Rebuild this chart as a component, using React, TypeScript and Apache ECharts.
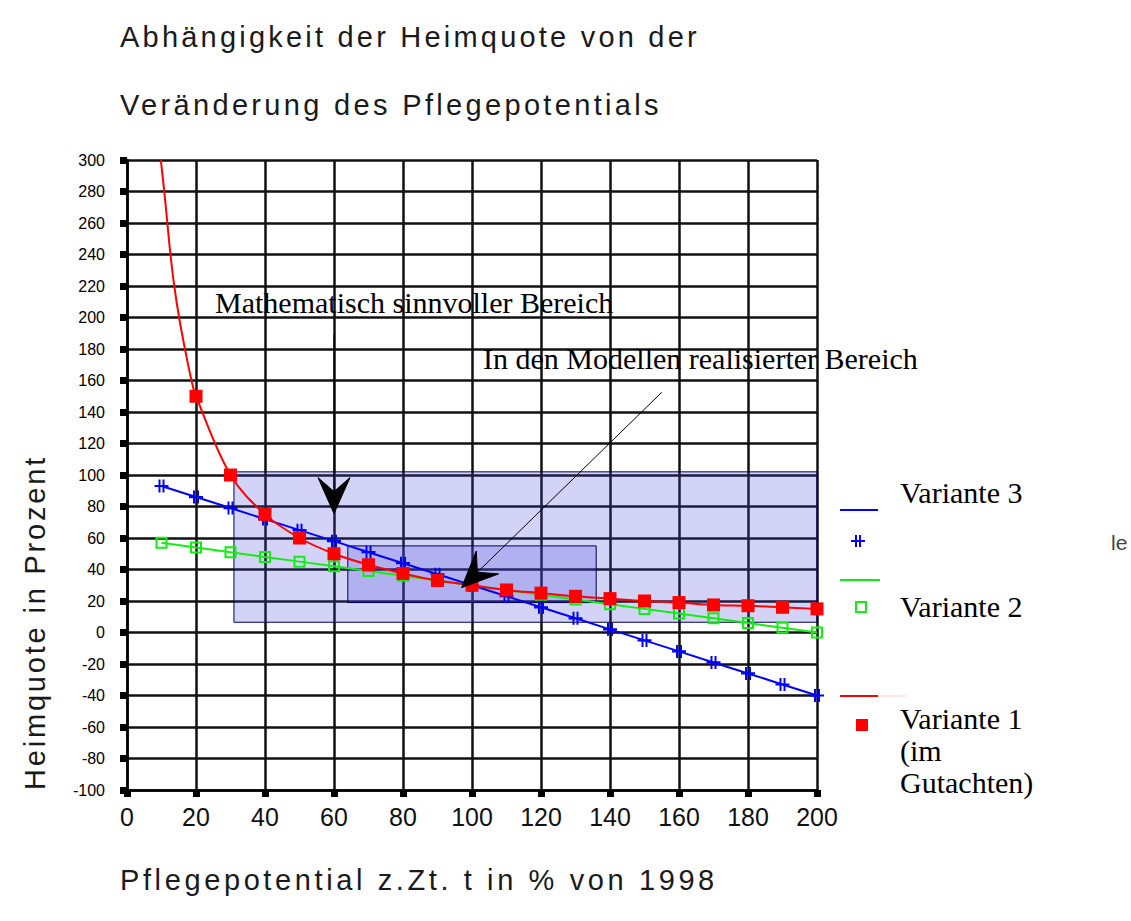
import React, { useEffect, useRef } from "react";
import * as echarts from "echarts";

// ---------- texts ----------
const TITLE_LINES = ["Abhängigkeit der Heimquote von der", "Veränderung des Pflegepotentials"];
const X_NAME = "Pflegepotential z.Zt. t in % von 1998";
const Y_NAME = "Heimquote in Prozent";
const NOTE_MATH = "Mathematisch sinnvoller Bereich";
const NOTE_MODEL = "In den Modellen realisierter Bereich";
const LEGEND_V3 = "Variante 3";
const LEGEND_V2 = "Variante 2";
const LEGEND_V1 = ["Variante 1", "(im", "Gutachten)"];

// ---------- axes ----------
const X_MIN = 0;
const X_MAX = 200;
const X_STEP = 20;
const Y_MIN = -100;
const Y_MAX = 300;
const Y_STEP = 20;

// ---------- data ----------
const xV3 = [10, 20, 30, 40, 50, 60, 70, 80, 90, 100, 110, 120, 130, 140, 150, 160, 170, 180, 190, 200];
const variante3 = [93, 86, 79, 72, 65, 58, 51, 44, 37, 30, 23, 16, 9, 2, -5, -12, -19, -26, -33, -40];

const xV2 = [10, 20, 30, 40, 50, 60, 70, 80, 90, 100, 110, 120, 130, 140, 150, 160, 170, 180, 190, 200];
const variante2 = [57, 54, 51, 48, 45, 42, 39, 36, 33, 30, 27, 24, 21, 18, 15, 12, 9, 6, 3, 0];

const xV1 = [20, 30, 40, 50, 60, 70, 80, 90, 100, 110, 120, 130, 140, 150, 160, 170, 180, 190, 200];
const variante1 = [150, 100, 75, 60, 50, 43, 37.5, 33, 30, 27, 25, 23, 21.5, 20, 19, 17.5, 17, 16, 15];
// red curve continuing above the first marker (line only, no markers)
const xV1Lead = [9.8, 10.8, 11.7, 12.6, 13.7, 15.1, 16.8, 18.7];
const variante1Lead = [300, 280, 260, 240, 220, 200, 180, 160];

// shaded ranges (data coordinates)
const outerRangeX = [31, 200];
const outerRangeY = [6.5, 102];
const innerRangeX = [64, 136];
const innerRangeY = [19, 55];

// annotation arrows (data coordinates: tail -> tip)
const arrowMath = [[60, 189], [60, 75.5]];
const arrowModel = [[155, 152.5], [97, 28.5]];

const BLUE = "#0000ff";
const GREEN = "#11ee11";
const RED = "#ff0000";
const SANS = '"Liberation Sans", Arial, Helvetica, sans-serif';
const SERIF = '"Liberation Serif", "Times New Roman", serif';

const BLUE_SYMBOL = "path://M0,6h14v2h-14z M4,1h2v12h-2z M8,1h2v12h-2z";

const BIG = 29;
// target widths of the widely spaced sans texts
const SPACED: Record<string, { size: number; width: number }> = {
  [TITLE_LINES[0]]: { size: BIG, width: 580 },
  [TITLE_LINES[1]]: { size: BIG, width: 542 },
  [X_NAME]: { size: BIG, width: 598 },
  [Y_NAME]: { size: BIG, width: 335 },
};

function arrowHead(tail: number[], tip: number[], len = 36, half = 16, notch = 14) {
  const dx = tip[0] - tail[0];
  const dy = tip[1] - tail[1];
  const d = Math.hypot(dx, dy);
  const ux = dx / d;
  const uy = dy / d;
  const nx = -uy;
  const ny = ux;
  const bx = tip[0] - ux * len;
  const by = tip[1] - uy * len;
  return [
    [tip[0], tip[1]],
    [bx + nx * half, by + ny * half],
    [tip[0] - ux * (len - notch), tip[1] - uy * (len - notch)],
    [bx - nx * half, by - ny * half],
  ];
}

export default function App() {
  const ref = useRef<HTMLDivElement>(null);

  useEffect(() => {
    const el = ref.current!;
    const chart = echarts.init(el, null, { renderer: "svg" });

    const axisCommon = {
      type: "value",
      axisLine: { show: true, onZero: false, lineStyle: { color: "#000", width: 2.5 } },
      axisTick: { show: true, length: 7, lineStyle: { color: "#000", width: 7 } },
      splitLine: { show: true, lineStyle: { color: "#111", width: 2.5 } },
    };

    const option: any = {
      animation: false,
      backgroundColor: "#fff",
      grid: { left: 127, top: 160, right: 314, bottom: 131, containLabel: false },
      xAxis: {
        ...axisCommon,
        min: X_MIN,
        max: X_MAX,
        interval: X_STEP,
        axisLabel: { fontSize: 25, fontFamily: SANS, color: "#111", margin: 14 },
      },
      yAxis: {
        ...axisCommon,
        min: Y_MIN,
        max: Y_MAX,
        interval: Y_STEP,
        axisLabel: { fontSize: 16, fontFamily: SANS, color: "#000", margin: 22 },
      },
      series: [
        {
          type: "line",
          name: "ranges",
          data: [],
          z: 1,
          silent: true,
          markArea: {
            silent: true,
            label: { show: false },
            itemStyle: { color: "rgba(70,70,225,0.24)", borderColor: "#000055", borderWidth: 1 },
            data: [
              [{ coord: [outerRangeX[0], outerRangeY[1]] }, { coord: [outerRangeX[1], outerRangeY[0]] }],
              [{ coord: [innerRangeX[0], innerRangeY[1]] }, { coord: [innerRangeX[1], innerRangeY[0]] }],
            ],
          },
        },
        {
          type: "line",
          name: LEGEND_V2,
          z: 3,
          data: xV2.map((x, i) => [x, variante2[i]]),
          symbol: "rect",
          symbolSize: 10,
          itemStyle: { color: "rgba(255,255,255,0)", borderColor: GREEN, borderWidth: 2 },
          lineStyle: { color: GREEN, width: 2 },
        },
        {
          type: "line",
          name: LEGEND_V3,
          z: 4,
          data: xV3.map((x, i) => [x, variante3[i]]),
          symbol: BLUE_SYMBOL,
          symbolSize: [14, 13],
          itemStyle: { color: BLUE },
          lineStyle: { color: BLUE, width: 2 },
        },
        {
          type: "line",
          name: LEGEND_V1[0],
          z: 5,
          smooth: 0.35,
          data: [
            ...xV1Lead.map((x, i) => ({ value: [x, variante1Lead[i]], symbol: "none" })),
            ...xV1.map((x, i) => [x, variante1[i]]),
          ],
          symbol: "rect",
          symbolSize: 13,
          itemStyle: { color: RED },
          lineStyle: { color: RED, width: 2 },
        },
      ],
    };

    chart.setOption(option);

    const toPx = (p: number[]) => chart.convertToPixel({ gridIndex: 0 }, p) as number[];

    const arrowGraphics = (arrow: number[][]) => {
      const tail = toPx(arrow[0]);
      const tip = toPx(arrow[1]);
      const head = arrowHead(tail, tip);
      return [
        {
          type: "line",
          z: 20,
          silent: true,
          shape: { x1: tail[0], y1: tail[1], x2: head[2][0], y2: head[2][1] },
          style: { stroke: "#000", lineWidth: 1 },
        },
        {
          type: "polygon",
          z: 20,
          silent: true,
          shape: { points: head },
          style: { fill: "#000", stroke: "#000", lineWidth: 1 },
        },
      ];
    };

    const sansText = (text: string, x: number, y: number, size: number, extra: any = {}) => ({
      type: "text",
      x,
      y,
      z: 20,
      silent: true,
      ...extra,
      style: { text, fontSize: size, fontFamily: SANS, fill: "#1a1a1a", align: "left", verticalAlign: "middle" },
    });
    const serifText = (text: string, x: number, y: number) => ({
      type: "text",
      x,
      y,
      z: 20,
      silent: true,
      style: { text, fontSize: 30, fontFamily: SERIF, fill: "#000", align: "left", verticalAlign: "middle" },
    });

    const graphic: any[] = [
      sansText(TITLE_LINES[0], 120, 37, BIG),
      sansText(TITLE_LINES[1], 120, 105, BIG),
      sansText(X_NAME, 120, 880, BIG),
      sansText(Y_NAME, 35, 790, BIG, { rotation: Math.PI / 2 }),
      serifText(NOTE_MATH, 215, 302),
      serifText(NOTE_MODEL, 483, 358),
      ...arrowGraphics(arrowMath),
      ...arrowGraphics(arrowModel),
      // legend
      { type: "line", z: 20, shape: { x1: 840, y1: 510, x2: 878, y2: 510 }, style: { stroke: BLUE, lineWidth: 2 } },
      {
        type: "group",
        x: 851,
        y: 535,
        z: 20,
        children: [
          { type: "rect", shape: { x: 0, y: 5, width: 14, height: 2 }, style: { fill: BLUE } },
          { type: "rect", shape: { x: 4, y: 0, width: 2, height: 12 }, style: { fill: BLUE } },
          { type: "rect", shape: { x: 8, y: 0, width: 2, height: 12 }, style: { fill: BLUE } },
        ],
      },
      serifText(LEGEND_V3, 900, 492),
      { type: "line", z: 20, shape: { x1: 840, y1: 580, x2: 880, y2: 580 }, style: { stroke: GREEN, lineWidth: 2 } },
      { type: "rect", z: 20, shape: { x: 856, y: 602, width: 10, height: 10 }, style: { fill: "#fff", stroke: GREEN, lineWidth: 2 } },
      serifText(LEGEND_V2, 900, 606),
      { type: "line", z: 20, shape: { x1: 878, y1: 696, x2: 906, y2: 696 }, style: { stroke: "rgba(255,0,0,0.2)", lineWidth: 1 } },
      { type: "line", z: 20, shape: { x1: 840, y1: 696, x2: 878, y2: 696 }, style: { stroke: RED, lineWidth: 2 } },
      { type: "rect", z: 20, shape: { x: 856, y: 719, width: 12, height: 12 }, style: { fill: RED } },
      serifText(LEGEND_V1[0], 900, 718),
      serifText(LEGEND_V1[1], 900, 750),
      serifText(LEGEND_V1[2], 900, 782),
      {
        type: "text",
        x: 1111,
        y: 542,
        z: 20,
        silent: true,
        style: { text: "le", fontSize: 21, fontFamily: SANS, fill: "#444", align: "left", verticalAlign: "middle" },
      },
    ];

    chart.setOption({ graphic });

    const canvas = document.createElement("canvas");
    const ctx = canvas.getContext("2d")!;
    const applySpacing = () => {
      const texts = el.querySelectorAll("text");
      texts.forEach((t) => {
        const content = t.textContent || "";
        const spec = SPACED[content];
        if (!spec) return;
        ctx.font = `${spec.size}px "Liberation Sans"`;
        const natural = ctx.measureText(content).width;
        const s = Math.max(0, (spec.width - natural) / content.length);
        const v = `${s.toFixed(2)}px`;
        if (t.getAttribute("letter-spacing") !== v) t.setAttribute("letter-spacing", v);
        (t as any).style.letterSpacing = v;
      });
    };
    chart.on("rendered", applySpacing);
    applySpacing();
    const timer = setTimeout(applySpacing, 50);

    return () => {
      clearTimeout(timer);
      chart.dispose();
    };
  }, []);

  return (
    <div
      ref={ref}
      style={{ position: "absolute", left: 0, top: 0, width: 1131, height: 921, background: "#fff" }}
    />
  );
}
